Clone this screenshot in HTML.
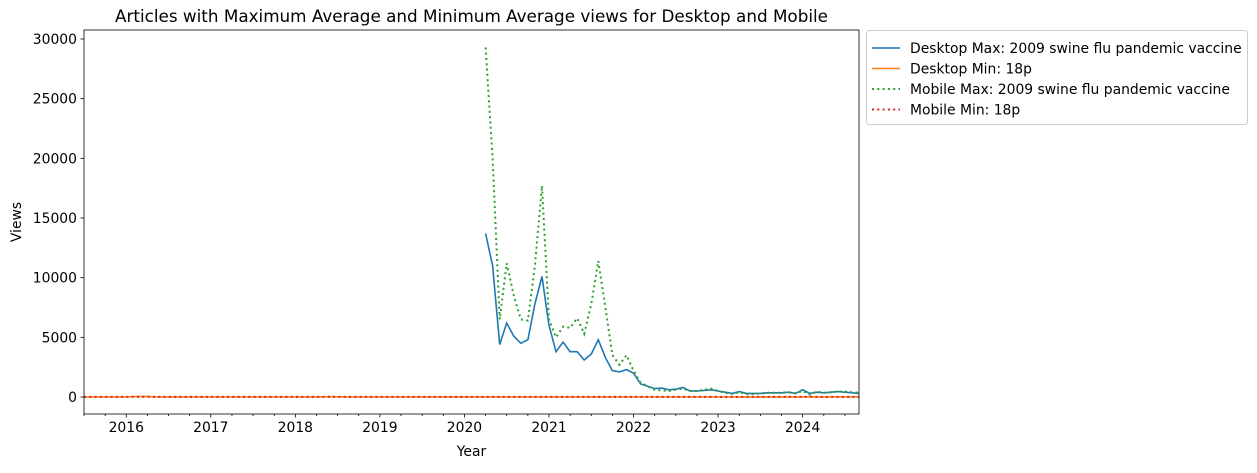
<!DOCTYPE html>
<html><head><meta charset="utf-8"><style>
body{margin:0;background:#fff;font-family:"Liberation Sans","DejaVu Sans",sans-serif}
svg text{font-family:"DejaVu Sans","Liberation Sans",sans-serif}
</style></head><body>
<svg id="c" width="1257" height="468" xmlns="http://www.w3.org/2000/svg"></svg>
<script>
const yTicks=[0,5000,10000,15000,20000,25000,30000];
const xYears=[2016,2017,2018,2019,2020,2021,2022,2023,2024];
const desktopMax=[13700,11000,4400,6200,5100,4500,4800,7800,10100,6000,3800,4600,3800,3800,3100,3600,4800,3300,2200,2100,2300,2000,1100,900,700,750,600,650,800,500,500,550,600,500,400,300,450,300,300,300,350,350,350,400,300,600,300,400,350,400,450,400,350,300];
const mobileMax=[29300,20000,6500,11200,8500,6500,6400,11000,17700,6500,5000,5900,5800,6600,5300,7800,11400,7500,3500,2700,3500,2200,1200,900,600,550,500,600,700,500,500,600,700,500,350,250,400,250,250,300,350,350,350,400,300,500,200,450,350,400,450,450,400,350];
const desktopMin=[10,10,10,10,10,10,10,30,50,50,20,10,10,10,10,10,10,10,10,10,10,10,10,10,10,10,10,10,10,10,10,10,10,10,20,30,20,10,10,10,10,10,10,10,10,10,10,10,10,10,10,10,10,10,10,10,10,10,10,10,10,10,10,10,10,10,10,10,10,10,10,10,10,10,10,10,10,10,10,10,10,10,10,10,10,10,10,10,10,10,10,10,10,10,10,10,10,10,10,10,10,10,10,10,10,10,10,10,10,10,10];
const mobileMin=desktopMin.map(()=>5);
const L=84,R=859,T=30,B=414;
const t0=2015+6/12,t1=2024+8/12;
const X=t=>L+(t-t0)/(t1-t0)*(R-L);
const Y=v=>397-v*(397-39)/30000;
const svg=document.getElementById('c');
const NS='http://www.w3.org/2000/svg';
function mk(tag,a,p){const e=document.createElementNS(NS,tag);for(const k in a)e.setAttribute(k,a[k]);(p||svg).appendChild(e);return e;}
function txt(s,a){const e=mk('text',a);e.textContent=s;return e;}
const clip=mk('clipPath',{id:'cp'});mk('rect',{x:L,y:T,width:R-L,height:B-T},clip);
const g=mk('g',{'clip-path':'url(#cp)'});
function line2(arr,start,col,dash,name){
  const pts=arr.map((v,i)=>X(start+i/12).toFixed(1)+','+Y(v).toFixed(1)).join(' ');
  const e=mk('polyline',{points:pts,fill:'none',stroke:col,'stroke-width':dash?2:1.6,'stroke-dasharray':dash||'none'},g);
  
  
}
line2(desktopMax,2020+3/12,'#1f77b4',null,'desktop-max-line');
line2(desktopMin,t0,'#ff7f0e',null,'desktop-min-line');
line2(mobileMax,2020+3/12,'#2ca02c','2,3.3','mobile-max-line');
line2(mobileMin,t0,'#d62728','2,3.3','mobile-min-line');
const fr=mk('rect',{x:L,y:T,width:R-L,height:B-T,fill:'none',stroke:'#000','stroke-width':0.8});

yTicks.forEach(v=>{const y=Y(v);mk('line',{x1:L-3.5,x2:L,y1:y,y2:y,stroke:'#000','stroke-width':0.8});
 const t=txt(String(v),{x:L-7,y:y+5,'text-anchor':'end','font-size':13.9});
 });
for(let q=Math.ceil(t0*4);q<=t1*4;q++){const x=X(q/4);const major=q%4===0;
 mk('line',{x1:x,x2:x,y1:B,y2:B+(major?3.5:2),stroke:'#000','stroke-width':0.8});}
xYears.forEach(yr=>{const t=txt(String(yr),{x:X(yr),y:B+18,'text-anchor':'middle','font-size':13.9});
 });
let e=txt('Year',{x:(L+R)/2,y:456,'text-anchor':'middle','font-size':13.9});
e=txt('Views',{x:0,y:0,'text-anchor':'middle','font-size':13.9,transform:'translate(21,'+((T+B)/2)+') rotate(-90)'});
e=txt('Articles with Maximum Average and Minimum Average views for Desktop and Mobile',{x:(L+R)/2,y:22,'text-anchor':'middle','font-size':16.8});
const lg=mk('g',{});
mk('rect',{x:866.5,y:30.5,width:381,height:94,rx:3,fill:'#fff',stroke:'#ccc'},lg);
const items=[['Desktop Max: 2009 swine flu pandemic vaccine','#1f77b4',null],['Desktop Min: 18p','#ff7f0e',null],['Mobile Max: 2009 swine flu pandemic vaccine','#2ca02c','2,3.3'],['Mobile Min: 18p','#d62728','2,3.3']];
items.forEach((it,i)=>{const y=48+i*20.5;
 mk('line',{x1:872,x2:900,y1:y,y2:y,stroke:it[1],'stroke-width':it[2]?2:1.6,'stroke-dasharray':it[2]||'none'},lg);
 const t=mk('text',{x:910,y:y+5,'font-size':13.9},lg);t.textContent=it[0];
 });
</script>
</body></html>
